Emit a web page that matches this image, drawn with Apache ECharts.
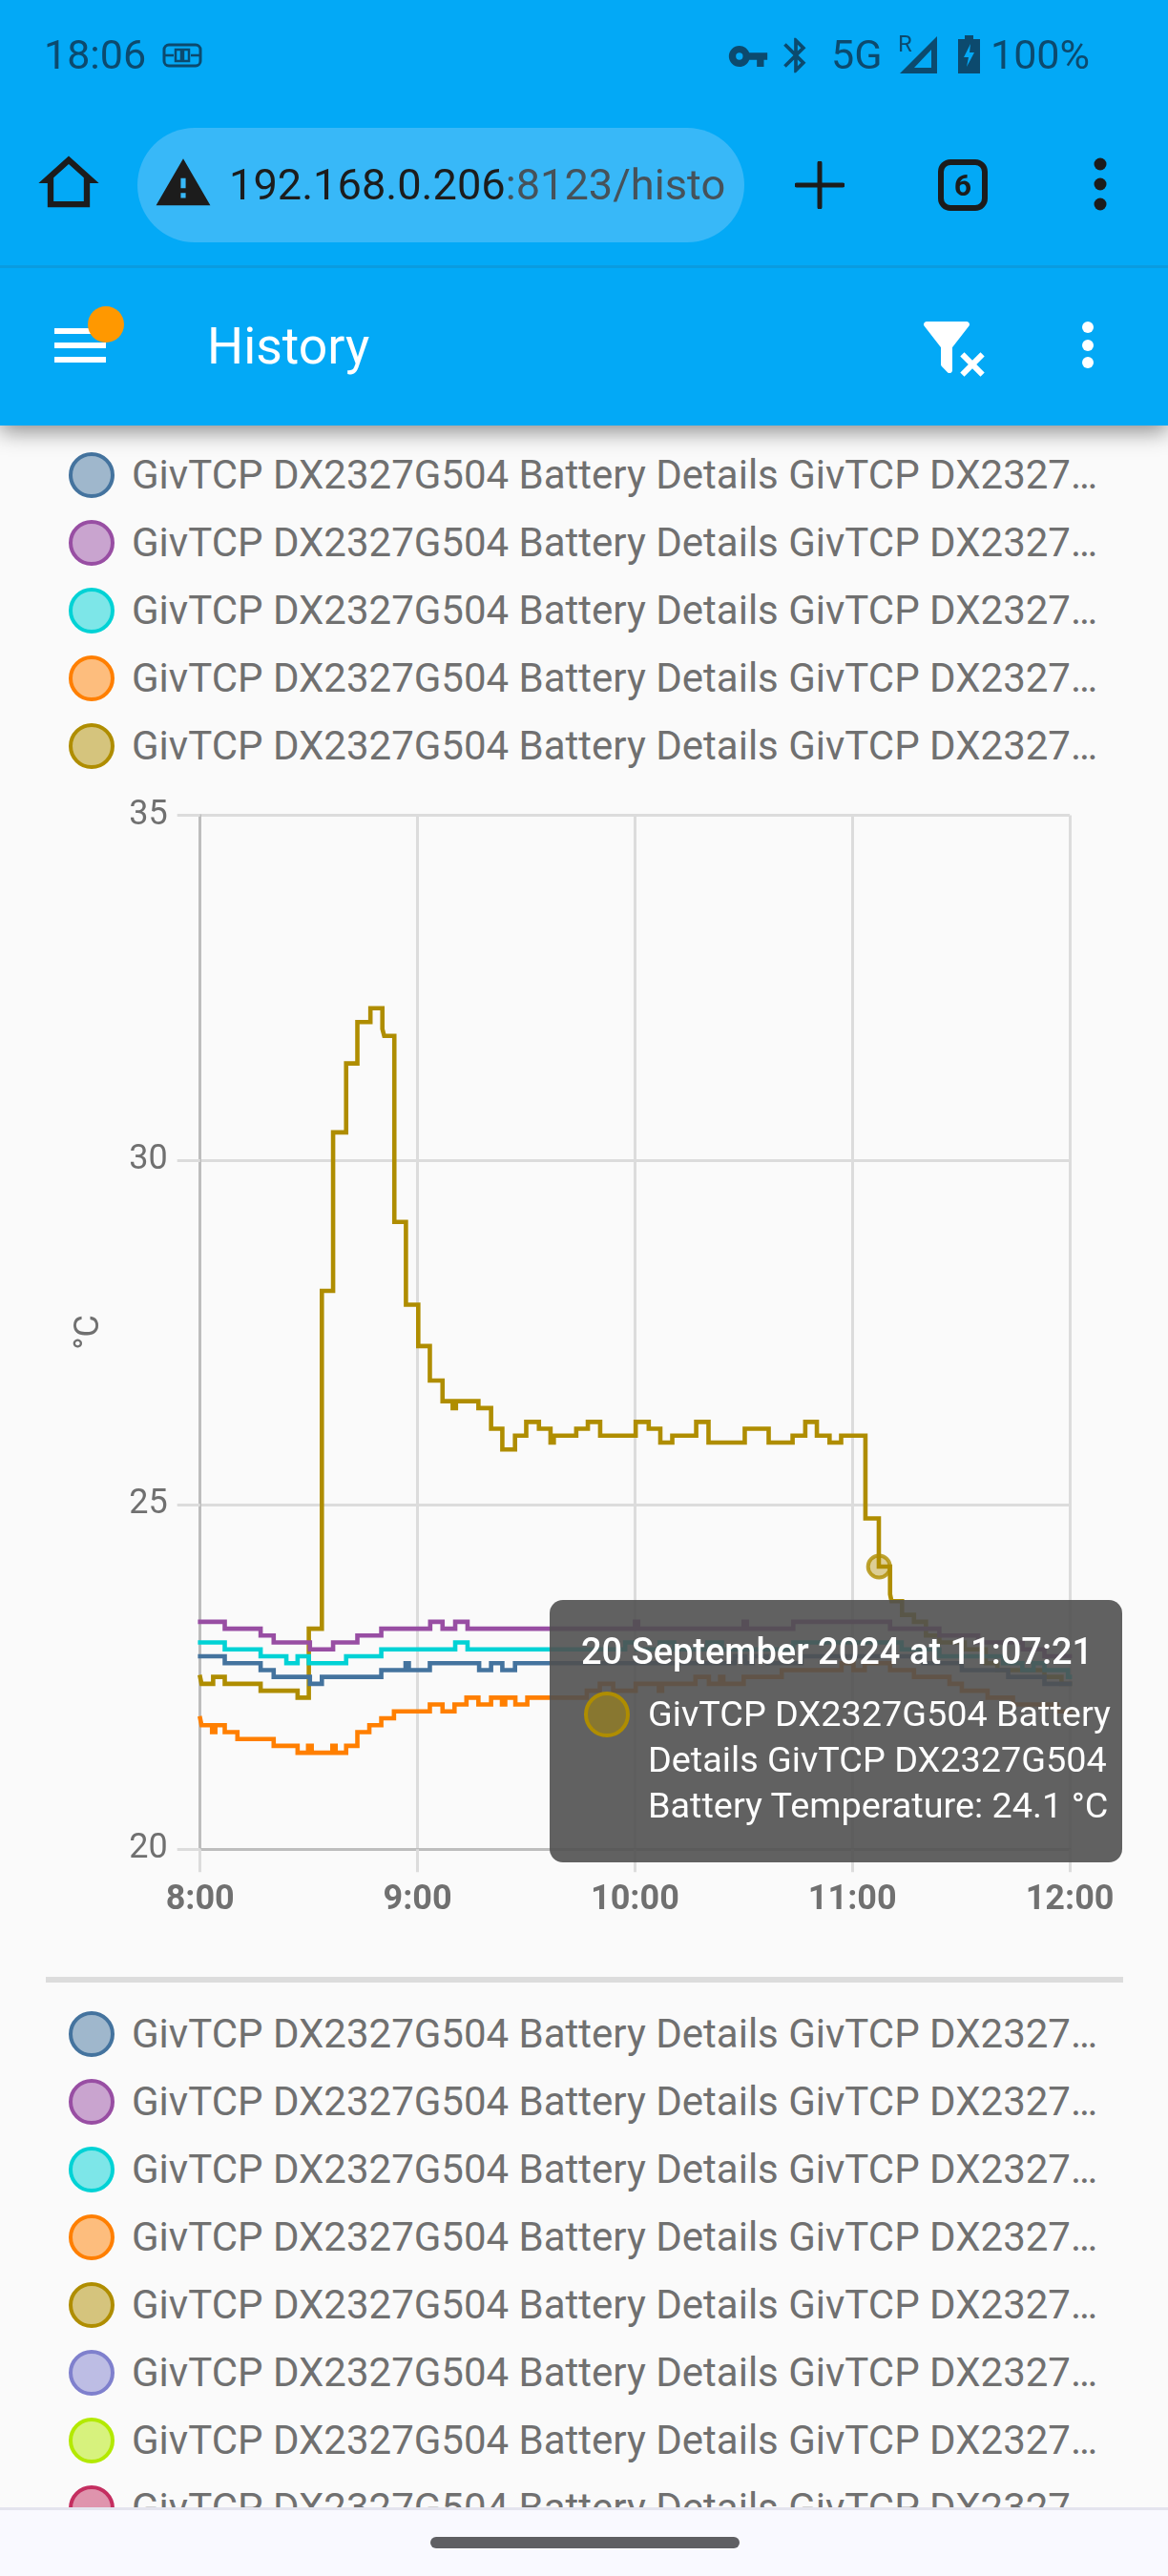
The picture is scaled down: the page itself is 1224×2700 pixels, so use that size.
<!DOCTYPE html>
<html><head><meta charset="utf-8">
<script src="https://cdn.jsdelivr.net/npm/echarts@6/dist/echarts.min.js"></script>
<style>
html,body{margin:0;padding:0;width:1224px;height:2700px;overflow:hidden;background:#fafafa;font-family:Roboto,sans-serif}
.abs{position:absolute}
#top{left:0;top:0;width:1224px;height:446px;background:#03a9f6;box-shadow:0 6px 22px rgba(0,0,0,.45);z-index:3}
#chart{left:0;top:0;width:1224px;height:2100px;z-index:1}
.t{position:absolute;white-space:nowrap;line-height:1}
.leg{position:absolute;left:138px;font-size:42px;color:#707070;white-space:nowrap;line-height:48px;height:48px}
.dot{position:absolute;left:72px;width:48px;height:48px;box-sizing:border-box;border-radius:50%;border-width:4px;border-style:solid}
#nav{left:0;top:2628px;width:1224px;height:72px;background:#f9f9ff;border-top:3px solid #e4e4ee;box-sizing:border-box;z-index:3}
svg{position:absolute;display:block}
</style></head><body>
<div id="chart" class="abs"></div>
<div id="top" class="abs">
  <div class="t" style="left:46px;top:36px;font-size:43px;color:#0c4a6e">18:06</div>
  <svg style="left:170px;top:45px" width="42" height="26" viewBox="0 0 42 26"><rect x="2" y="2" width="38" height="22" rx="5" fill="none" stroke="#0c4a6e" stroke-width="3"/><path d="M2 13h10M30 13h10M14 7h6v12h-6zM22 7h6v12h-6z" fill="none" stroke="#0c4a6e" stroke-width="2.5"/></svg>
  <svg style="left:762px;top:37px" width="44" height="44" viewBox="0 0 24 24"><path fill="#0c4a6e" d="M7,14A2,2 0 0,1 5,12A2,2 0 0,1 7,10A2,2 0 0,1 9,12A2,2 0 0,1 7,14M12.65,10C11.83,7.67 9.61,6 7,6A6,6 0 0,0 1,12A6,6 0 0,0 7,18C9.61,18 11.83,16.33 12.65,14H17V18H21V14H23V10H12.65Z"/></svg>
  <svg style="left:812px;top:36px" width="44" height="44" viewBox="0 0 24 24"><path fill="#0c4a6e" d="M17.71,7.71L12,2H11V9.59L6.41,5L5,6.41L10.59,12L5,17.59L6.41,19L11,14.41V22H12L17.71,16.29L13.41,12L17.71,7.71M13,5.83L14.88,7.71L13,9.59V5.83M14.88,16.29L13,18.17V14.41L14.88,16.29Z"/></svg>
  <div class="t" style="left:871px;top:36px;font-size:43px;color:#0c4a6e">5G</div>
  <div class="t" style="left:941px;top:34px;font-size:24px;color:#0c4a6e">R</div>
  <svg style="left:942px;top:38px" width="42" height="40" viewBox="0 0 42 40"><path d="M40 0V39H1z" fill="#0c4a6e"/><path d="M34 14V33H16z" fill="#03a9f6"/></svg>
  <svg style="left:1004px;top:37px" width="23" height="40" viewBox="0 0 23 40"><path d="M7 0h9v4h7v36H0V4h7z" fill="#0c4a6e"/><path d="M13 9L6 23h5l-2 10 8-15h-5z" fill="#03a9f6"/></svg>
  <div class="t" style="left:1038px;top:36px;font-size:43px;color:#0c4a6e">100%</div>

  <svg style="left:34px;top:154px" width="76" height="76" viewBox="0 0 24 24"><path fill="#1c1c1c" d="M12 5.69l5 4.5V18H7v-7.81l5-4.5M12 3L2 12h3v8h14v-8h3L12 3z"/></svg>
  <div class="abs" style="left:144px;top:134px;width:636px;height:120px;border-radius:60px;background:#38b8f8"></div>
  <svg style="left:161px;top:161px" width="62" height="62" viewBox="0 0 24 24"><path fill="#1c1c1c" d="M1 21h22L12 2 1 21zm12-3h-2v-2h2v2zm0-4h-2v-4h2v4z"/></svg>
  <div class="t" style="left:240px;top:171px;font-size:45.2px;color:#1c1c1c">192.168.0.206<span style="color:#46525a">:8123/histo</span></div>
  <svg style="left:833px;top:169px" width="52" height="50" viewBox="0 0 52 50"><path d="M26 2v46M2 25h48" stroke="#1c1c1c" stroke-width="5" stroke-linecap="round"/></svg>
  <div class="abs" style="left:983px;top:167px;width:52px;height:54px;box-sizing:border-box;border:6px solid #1c1c1c;border-radius:13px;text-align:center;font-size:32px;font-weight:700;line-height:42px;color:#1c1c1c">6</div>
  <svg style="left:1141px;top:165px" width="24" height="56" viewBox="0 0 24 56"><circle cx="12" cy="7" r="6.5" fill="#1c1c1c"/><circle cx="12" cy="28" r="6.5" fill="#1c1c1c"/><circle cx="12" cy="49" r="6.5" fill="#1c1c1c"/></svg>
  <div class="abs" style="left:0;top:278px;width:1224px;height:3px;background:#0a9be0"></div>

  <div class="abs" style="left:57px;top:344px;width:54px;height:6px;background:#fff"></div>
  <div class="abs" style="left:57px;top:359px;width:54px;height:6px;background:#fff"></div>
  <div class="abs" style="left:57px;top:374px;width:54px;height:6px;background:#fff"></div>
  <div class="abs" style="left:92px;top:321px;width:38px;height:38px;border-radius:50%;background:#ff9800;border:0"></div>
  <div class="t" style="left:217px;top:336px;font-size:53.5px;color:#fff">History</div>
  <svg style="left:962px;top:328px" width="72" height="72" viewBox="0 0 24 24"><path fill="#fff" d="M14.76,20.83L17.6,18L14.76,15.17L16.17,13.76L19,16.57L21.83,13.76L23.24,15.17L20.43,18L23.24,20.83L21.83,22.24L19,19.4L16.17,22.24L14.76,20.83M12,12V19.88C12.04,20.18 11.94,20.5 11.71,20.71C11.32,21.1 10.69,21.1 10.3,20.71L8.29,18.7C8.06,18.47 7.96,18.16 8,17.88V12H7.97L2.21,4.62C1.87,4.19 1.95,3.56 2.38,3.22C2.57,3.08 2.78,3 3,3H17C17.22,3 17.43,3.08 17.62,3.22C18.05,3.56 18.13,4.19 17.79,4.62L12.03,12H12Z"/></svg>
  <svg style="left:1128px;top:335px" width="24" height="54" viewBox="0 0 24 54"><circle cx="12" cy="8" r="6" fill="#fff"/><circle cx="12" cy="27" r="6" fill="#fff"/><circle cx="12" cy="45" r="6" fill="#fff"/></svg>
</div>
<div id="legends"></div>
<div class="abs" style="left:48px;top:2072px;width:1129px;height:6px;background:#dcdcdc"></div>
<div id="nav" class="abs"><div class="abs" style="left:451px;top:28px;width:324px;height:12px;border-radius:6px;background:#5f5f63"></div></div>

<script>
// ---------- data (minutes after 8:00, degrees C) ----------
const xTickLabels = ['8:00','9:00','10:00','11:00','12:00'];
const yTickValues = [20,25,30,35];
const legendLabel = 'GivTCP DX2327G504 Battery Details GivTCP DX2327\u2026';
const palette = ['#44739e','#984ea3','#00d2d5','#ff7f00','#af8d00','#7f80cd','#b3e900','#c42e60'];
const seriesName = 'GivTCP DX2327G504 Battery Details GivTCP DX2327G504 Battery Temperature';

const blueT = [0,6.8,16.7,20.3,30.3,33.6,50,56.7,57.6,63.4,77,80.3,83.4,86.9,147.5,150.5,152.5,156.5,166,199.6,210.2,223,233,240];
const blueV = [22.8,22.7,22.6,22.5,22.4,22.5,22.6,22.7,22.6,22.7,22.6,22.7,22.6,22.7,22.8,22.7,22.8,22.7,22.8,22.7,22.6,22.5,22.4,22.4];
const purpleT = [0,6.8,16.7,20.3,30.3,36.7,43.4,50,63.5,66.9,70.4,73.8,120,120.9,150,150.9,163.7,190.4,204,214.7,227,233,240];
const purpleV = [23.3,23.2,23.1,23,22.9,23,23.1,23.2,23.3,23.2,23.3,23.2,23.3,23.2,23.3,23.2,23.3,23.2,23.1,23,22.9,22.8,22.8];
const cyanT = [0,6.8,16.7,23.8,26.9,30,40.3,50,70.4,73.8,117.3,120.5,126.8,130.8,140,144,163.7,193.6,204,221.6,226.9,230,233,239.5,240];
const cyanV = [23,22.9,22.8,22.7,22.8,22.7,22.8,22.9,23,22.9,23,22.9,23,22.9,23,22.9,23,22.9,22.8,22.7,22.6,22.7,22.6,22.5,22.5];
const orangeT = [0,0.4,3.3,4.2,6.8,10.3,20.3,26.9,29.8,30.8,36.5,37.4,40.3,43.4,46.7,50,53.5,63.4,66.9,70.2,73.5,76.8,80.3,83.3,84.2,87,90.3,106.7,110.3,114,120.2,126.6,127.5,136.7,140.4,143.5,144.4,150,160.5,177,180.3,183.4,190.4,197,206.8,210.2,217.3,224.3,236.5,240];
const orangeV = [21.9,21.8,21.7,21.8,21.7,21.6,21.5,21.4,21.5,21.4,21.5,21.4,21.5,21.7,21.8,21.9,22,22.1,22,22.1,22.2,22.1,22.2,22.1,22.2,22.1,22.2,22.3,22.4,22.3,22.4,22.3,22.4,22.5,22.4,22.5,22.4,22.5,22.6,22.7,22.6,22.7,22.6,22.5,22.4,22.3,22.2,22.1,22,22];
const goldT = [0,0.4,3.6,6.8,16.7,26.9,30,33.6,36.7,40.3,43.4,47,50.3,50.8,53.6,56.8,60.2,63.4,66.9,69.7,70.6,76.8,80.3,83.4,86.9,90,93.5,96.7,97.6,103.8,107,110.4,120.2,123.8,127,130.3,136.9,140.3,150.3,156.9,163.5,167,170.2,173.7,176.9,183.6,187.3,190.4,190.8,193.7,197,200.3,204,211,216.8,220,233,237.7,240];
const goldV = [22.5,22.4,22.5,22.4,22.3,22.2,23.2,28.1,30.4,31.4,32,32.2,31.9,31.8,29.1,27.9,27.3,26.8,26.5,26.4,26.5,26.4,26.1,25.8,26,26.2,26.1,25.9,26,26.1,26.2,26,26.2,26.1,25.9,26,26.2,25.9,26.1,25.9,26,26.2,26,25.9,26,24.8,24.1,23.7,23.6,23.4,23.3,23.1,23,22.9,22.7,22.6,22.5,22.4,22.4];
const hoverT = 187.35;
const hoverV = 24.1;
const tipTitle = '20 September 2024 at 11:07:21';
const tipLines = ['GivTCP DX2327G504 Battery','Details GivTCP DX2327G504','Battery Temperature: 24.1 \u00b0C'];

// ---------- legends ----------
const hexA = (h,a)=>'rgba('+parseInt(h.slice(1,3),16)+','+parseInt(h.slice(3,5),16)+','+parseInt(h.slice(5,7),16)+','+a+')';
const legHost = document.getElementById('legends');
function addLegend(y0,count){
  for(let i=0;i<count;i++){
    const y=y0+i*71;
    const d=document.createElement('div');d.className='dot';
    d.style.top=(y-24)+'px';d.style.borderColor=palette[i];d.style.background=hexA(palette[i],.5);
    const t=document.createElement('div');t.className='leg';t.style.top=(y-24)+'px';t.textContent=legendLabel;
    legHost.appendChild(d);legHost.appendChild(t);
  }
}
addLegend(498,5);
addLegend(2132,8);

// ---------- chart ----------
const pairs=(t,v)=>t.map((x,i)=>[x,v[i]]);
const lines=[[blueT,blueV],[purpleT,purpleV],[cyanT,cyanV],[orangeT,orangeV],[goldT,goldV]];
const chart=echarts.init(document.getElementById('chart'),null,{renderer:'canvas'});
const series=lines.map((l,i)=>({
  type:'line',name:seriesName+i,step:'end',showSymbol:false,symbol:'none',silent:true,
  z:10-i,data:pairs(l[0],l[1]),
  lineStyle:{color:palette[i],width:4.6,join:'miter',cap:'square'}
}));
series.push({type:'scatter',name:seriesName,z:3,symbol:'circle',symbolSize:23,
  data:[[hoverT,hoverV]],
  itemStyle:{color:hexA(palette[4],.5),borderColor:palette[4],borderWidth:4}
});
chart.setOption({
  animation:false,
  backgroundColor:'transparent',
  grid:{left:209.7,top:854.5,width:911.4,height:1083.8},
  tooltip:{
    show:true,trigger:'item',alwaysShowContent:true,showDelay:0,transitionDuration:0,
    position:[576,1677],
    backgroundColor:'rgba(80,80,80,.9)',borderWidth:0,padding:0,
    extraCssText:'box-shadow:none;border-radius:14px;width:600px;height:275px;box-sizing:border-box;',
    formatter:()=>'<div style="position:relative;width:600px;height:275px;font-family:Roboto,sans-serif;color:#fff">'
      +'<div style="position:absolute;left:33px;top:33px;font-size:38px;font-weight:500;line-height:42px;white-space:nowrap">'+tipTitle+'</div>'
      +'<div style="position:absolute;left:36px;top:96px;width:48px;height:48px;box-sizing:border-box;border-radius:50%;border:4px solid '+palette[4]+';background:'+hexA(palette[4],.5)+'"></div>'
      +'<div style="position:absolute;left:103px;top:95px;font-size:37.8px;line-height:48px;white-space:nowrap">'+tipLines.join('<br>')+'</div>'
      +'</div>'
  },
  xAxis:{type:'value',min:0,max:240,interval:60,
    axisLine:{show:true,onZero:false,lineStyle:{color:'#bdbdbd',width:3}},
    axisTick:{show:true,length:24,lineStyle:{color:'#dcdcdc',width:3}},
    splitLine:{show:true,lineStyle:{color:'#dcdcdc',width:3}},
    axisLabel:{margin:36,color:'#707070',fontFamily:'Roboto',fontWeight:700,fontSize:36,
      showMinLabel:true,showMaxLabel:true,formatter:v=>xTickLabels[v/60]}
  },
  yAxis:{type:'value',min:yTickValues[0],max:yTickValues[3],interval:5,
    name:'\u00b0C',nameLocation:'middle',nameGap:98,nameRotate:90,
    nameTextStyle:{color:'#707070',fontFamily:'Roboto',fontSize:36},
    axisLine:{show:true,onZero:false,lineStyle:{color:'#bdbdbd',width:3}},
    axisTick:{show:true,length:24,lineStyle:{color:'#dcdcdc',width:3}},
    splitLine:{show:true,lineStyle:{color:'#dcdcdc',width:3}},
    axisLabel:{margin:34,color:'#707070',fontFamily:'Roboto',fontSize:36}
  },
  series:series
});
chart.dispatchAction({type:'showTip',seriesIndex:5,dataIndex:0});
</script>
</body></html>
